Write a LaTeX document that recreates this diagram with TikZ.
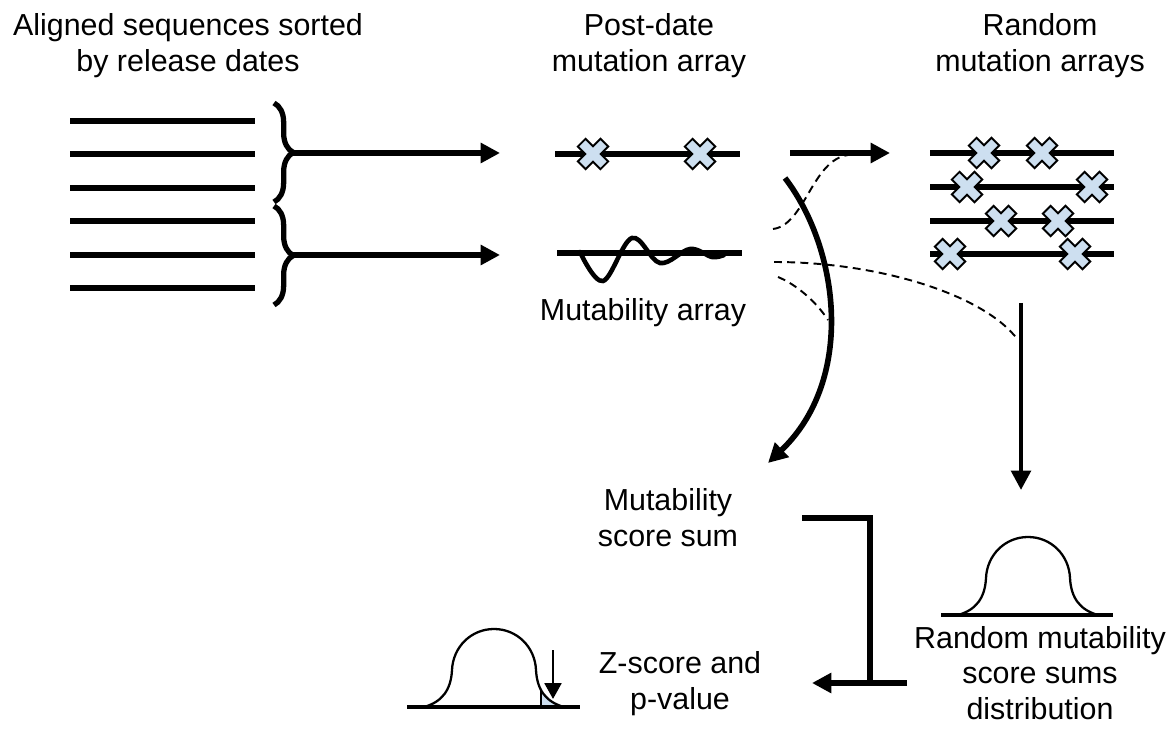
\documentclass[tikz,border=0pt]{standalone}
\usepackage{fontspec}
\setmainfont{Liberation Sans}
\usetikzlibrary{arrows.meta,decorations.pathreplacing,calc}
\definecolor{xblue}{RGB}{205,223,240}
\newcommand{\bellcurve}{(-70,0) .. controls (-52,-5) and (-43,-17) .. (-42,-37) .. controls (-41,-60) and (-23,-78) .. (0,-78) .. controls (23,-78) and (41,-60) .. (42,-37) .. controls (43,-17) and (52,-5) .. (70,0)}
\tikzset{
    lbl/.style = {align=center, inner sep=0pt, font=\fontsize{17.3}{20.4}\selectfont},
    seqline/.style = {line width=3.8pt},
    baseline/.style = {line width=2.2pt},
    bigarrow/.style = {line width=3.2pt, -{Triangle[length=11pt,width=11pt]}},
    midarrow/.style = {line width=2.5pt, -{Triangle[length=11pt,width=11pt]}},
    smallarrow/.style = {line width=1.6pt, -{Triangle[length=9pt,width=9.5pt]}},
    dashline/.style = {line width=1.1pt, dash pattern=on 4.5pt off 3pt},
    bracestyle/.style = {line width=3pt, decorate, decoration={brace, amplitude=11pt}},
    bellline/.style = {line width=1.3pt},
    mutx/.pic = {\filldraw[fill=xblue, draw=black, line width=1.1pt, rotate=45]
        (-16,-5.5) -- (-5.5,-5.5) -- (-5.5,-16) -- (5.5,-16) -- (5.5,-5.5) -- (16,-5.5)
        -- (16,5.5) -- (5.5,5.5) -- (5.5,16) -- (-5.5,16) -- (-5.5,5.5) -- (-16,5.5) -- cycle;},
    bell/.pic = {\draw[bellline] \bellcurve;}
}

\begin{document}
\begin{tikzpicture}[x=0.02cm, y=-0.02cm]
    \useasboundingbox (0,0) rectangle (1166,729);
    % titles
    \node[lbl] (seqlbl) at (188,46) {Aligned sequences sorted\\by release dates};
    \node[lbl] (postlbl) at (649,46) {Post-date\\mutation array};
    \node[lbl] (randlbl) at (1040,46) {Random\\mutation arrays};

    % aligned sequences and braces
    \foreach \y in {121,154,188,221,255,288}
        \draw[seqline] (70,\y) -- (255,\y);
    \draw[bracestyle] (274,103) -- (274,202);
    \draw[bracestyle] (274,206) -- (274,305);
    \coordinate (tipa) at (292,153);
    \coordinate (tipb) at (292,255);
    \coordinate (postin) at (500,153);
    \coordinate (mutin) at (500,255);
    \draw[bigarrow] (tipa) -- (postin);
    \draw[bigarrow] (tipb) -- (mutin);

    % post-date mutation array
    \draw[seqline] (555,154) -- (740,154);
    \foreach \x in {593,700}
        \pic at (\x,154) {mutx};

    % mutability array
    \draw[seqline] (557,253) -- (742,253);
    \draw[line width=2.6pt, line cap=round] plot[smooth, tension=0.6] coordinates
        {(580,252) (603,281) (632,238) (660,263) (690,249) (712,257) (724,255)};
    \node[lbl] (mutlbl) at (643,313) {Mutability array};

    % shuffle arrow
    \coordinate (shufa) at (790,153);
    \coordinate (shufb) at (890,153);
    \draw[bigarrow] (shufa) -- (shufb);

    % random mutation arrays
    \foreach \y/\xa/\xb in {153/984/1042, 187/967/1092, 221/1001/1058, 254/950/1075} {
        \draw[seqline] (930,\y) -- (1114,\y);
        \pic at (\xa,\y) {mutx};
        \pic at (\xb,\y) {mutx};
    }

    % curved arrow to the score sum
    \coordinate (curva) at (785,178);
    \coordinate (curvb) at (768,463);
    \draw[bigarrow] (curva) .. controls (840,250) and (855,380) .. (curvb);
    \draw[dashline] (773,229) .. controls (805,225) and (812,160) .. (848,155);
    \draw[dashline] (774,262) .. controls (880,262) and (985,295) .. (1018,340);
    \draw[dashline] (778,277) .. controls (795,284) and (815,300) .. (828,320);

    % arrow to the distribution
    \coordinate (dista) at (1021,303);
    \coordinate (distb) at (1021,490);
    \draw[midarrow] (dista) -- (distb);

    % distribution
    \pic at (1028,615) {bell};
    \draw[baseline] (941,615) -- (1113,615);
    \node[lbl] (distlbl) at (1040,673) {Random mutability\\score sums\\distribution};
    \node[lbl] (sumlbl) at (668,518) {Mutability\\score sum};
    \node[lbl] (zlbl) at (680,684) {Z-score and\\p-value};

    % joining both sums
    \coordinate (sumout) at (802,518);
    \coordinate (joint) at (870,683);
    \coordinate (distout) at (907,683);
    \coordinate (zin) at (812,683);
    \draw[seqline] (sumout) -| (joint);
    \draw[bigarrow] (distout) -- (zin);

    % z-score plot
    \begin{scope}[shift={(494,707)}]
        \begin{scope}
            \clip \bellcurve -- cycle;
            \filldraw[fill=xblue, line width=1pt] (47,-60) rectangle (90,0);
        \end{scope}
        \draw[bellline] \bellcurve;
    \end{scope}
    \draw[baseline] (407,707) -- (580,707);
    \coordinate (pvtop) at (553,650);
    \coordinate (pvbot) at (553,699);
    \draw[smallarrow] (pvtop) -- (pvbot);
\end{tikzpicture}
\end{document}
